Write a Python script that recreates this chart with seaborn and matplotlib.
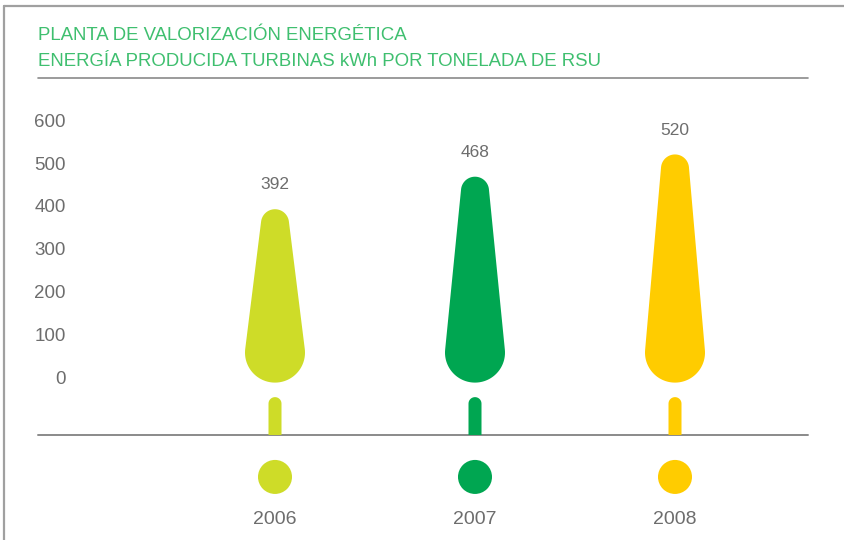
import numpy as np
import pandas as pd
import matplotlib
matplotlib.use("Agg")
import matplotlib.pyplot as plt
from matplotlib.patches import Polygon
from matplotlib.lines import Line2D
import seaborn as sns

# data
years = ["2006", "2007", "2008"]
kwh_per_ton = [392, 468, 520]
colors = ["#CEDC28", "#00A651", "#FFCC00"]
yticks = [0, 100, 200, 300, 400, 500, 600]
title_lines = ["PLANTA DE VALORIZACIÓN ENERGÉTICA",
               "ENERGÍA PRODUCIDA TURBINAS kWh POR TONELADA DE RSU"]

sns.set_theme(style="white")
plt.rcParams["font.family"] = ["Liberation Sans", "DejaVu Sans"]

W, H = 844, 540
fig = plt.figure(figsize=(W / 100, H / 100), dpi=100)
ax = fig.add_axes([70 / W, 0, 1 - 70 / W, 1])

# scale: pixels per unit
PX_X = 200.0     # one category step
PX_Y = 0.428     # one kWh
ax.set_xlim((70 - 275) / PX_X, (W - 275) / PX_X)
ax.set_ylim(-(H - 377) / PX_Y, 377 / PX_Y)


def px(dx, dy):
    return dx / PX_X, dy / PX_Y


def tree_shape(cx, top, r1=30, r2=14, bulb_y=57):
    # convex hull of a big bottom circle and a small top circle (in pixel space)
    c1 = 0.0
    c2 = (top - bulb_y) * PX_Y - r2
    d = c2 - c1
    s = (r1 - r2) / d
    a = np.arcsin(s)
    t_bot = np.linspace(a, -np.pi - a, 60)
    t_top = np.linspace(np.pi - a, a, 40)
    xs = np.concatenate([r1 * np.cos(t_bot), r2 * np.cos(t_top)])
    ys = np.concatenate([c1 + r1 * np.sin(t_bot), c2 + r2 * np.sin(t_top)])
    dx, dy = px(xs, ys)
    return np.column_stack([cx + dx, bulb_y + dy])


def trunk_shape(cx, y_bot=-135.5, y_top=-47, w=6.5):
    t = np.linspace(0, np.pi, 20)
    cap_c = y_top - w / PX_Y
    xs = np.concatenate([[w, w], w * np.cos(t), [-w]])
    ys = np.concatenate([[y_bot, cap_c], cap_c + w * np.sin(t) / PX_Y, [y_bot]])
    return np.column_stack([cx + xs / PX_X, ys])


for i, (val, col) in enumerate(zip(kwh_per_ton, colors)):
    ax.add_patch(Polygon(tree_shape(i, val), closed=True, facecolor=col,
                         edgecolor="none", zorder=3))
    ax.add_patch(Polygon(trunk_shape(i), closed=True, facecolor=col,
                         edgecolor="none", zorder=3))
    ax.text(i, val + 57, str(val), ha="center", va="center",
            fontsize=12.5, color="#6d6d6d")
    ax.text(i, -333, years[i], ha="center", va="center",
            fontsize=14, color="#6d6d6d")

# ground line
ax.plot([(38 - 275) / PX_X, (808 - 275) / PX_X], [-135.5, -135.5],
        color="#8a8a8a", lw=1.4, zorder=2, clip_on=False)

# circles under the ground
df = pd.DataFrame({"x": range(len(years)), "y": [-233.5] * len(years), "year": years})
sns.scatterplot(data=df, x="x", y="y", hue="year", palette=colors, s=600,
                edgecolor="none", legend=False, ax=ax, zorder=3)

ax.set_yticks(yticks)
ax.set_yticklabels([str(v) for v in yticks], fontsize=13.5, color="#6d6d6d")
ax.tick_params(axis="y", length=0, pad=3)
ax.set_xticks([])
ax.set_xlabel("")
ax.set_ylabel("")
for sp in ax.spines.values():
    sp.set_visible(False)
ax.patch.set_alpha(0)

# title block
fig.text(38 / W, 1 - 35 / H, title_lines[0], ha="left", va="center",
         fontsize=13.4, color="#3fbf6f")
fig.text(38 / W, 1 - 61 / H, title_lines[1], ha="left", va="center",
         fontsize=13.4, color="#3fbf6f")
fig.add_artist(Line2D([38 / W, 808 / W], [1 - 78 / H, 1 - 78 / H],
                      color="#8a8a8a", lw=1.2))

# page frame (top and left)
fig.add_artist(Line2D([4 / W, 1], [1 - 6 / H, 1 - 6 / H], color="#a0a0a0", lw=1.6))
fig.add_artist(Line2D([4 / W, 4 / W], [0, 1 - 6 / H], color="#a0a0a0", lw=1.6))

fig.savefig("out.png", dpi=100)
